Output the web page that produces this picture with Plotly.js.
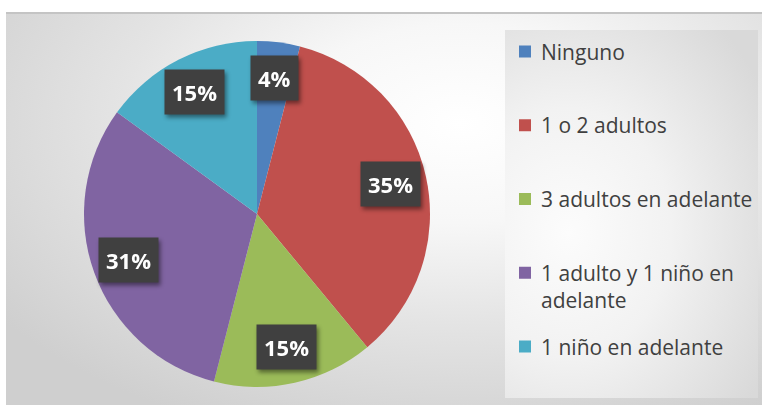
<!DOCTYPE html>
<html><head><meta charset="utf-8">
<script src="https://cdn.plot.ly/plotly-3.0.1.min.js"></script>
<style>
html,body{margin:0;padding:0;background:#fff;width:762px;height:408px;overflow:hidden;}
#frame{position:absolute;left:6px;top:12px;width:756px;height:393px;
  background:radial-gradient(ellipse 75% 85% at 60% 28%, #ffffff 0%, #f7f7f7 30%, #e4e4e4 60%, #cfcfcf 100%);
  border-top:2px solid #c4c4c4;box-sizing:border-box;}
#legbox{position:absolute;left:505px;top:30px;width:253px;height:368px;
  background:radial-gradient(ellipse 90% 75% at 25% 55%, #fcfcfc 0%, #f2f2f2 45%, #d9d9d9 100%);}
#chart{position:absolute;left:0;top:0;width:762px;height:408px;}
.annotation[data-index="0"],.annotation[data-index="1"],.annotation[data-index="2"],
.annotation[data-index="3"],.annotation[data-index="4"]{filter:drop-shadow(2px 3px 2px rgba(0,0,0,0.45));}
</style></head><body>
<div id="frame"></div><div id="legbox"></div><div id="chart"></div>
<script>
// ---- data ----
const categories = ['Ninguno', '1 o 2 adultos', '3 adultos en adelante', '1 adulto y 1 niño en adelante', '1 niño en adelante'];
const values = [4, 35, 15, 31, 15];
const colors = ['#4f81bd', '#c0504d', '#9bbb59', '#8064a2', '#4bacc6'];

// ---- layout geometry ----
const W = 762, H = 408;
const cx = 257, cy = 214, R = 173;
const labelFrac = 0.79;
const legX = 539, legSq = 525, legY0 = 51.5, legStep = 73.75, legLine = 28;

const total = values.reduce((a, b) => a + b, 0);
const px = x => x / W;
const py = y => (H - y) / H;

function wrap(s, maxChars) {
  const words = s.split(' '); const lines = []; let cur = '';
  words.forEach(w => {
    const t = cur ? cur + ' ' + w : w;
    if (t.length > maxChars && cur) { lines.push(cur); cur = w; } else cur = t;
  });
  if (cur) lines.push(cur);
  return lines;
}

const annotations = [];
let cum = 0;
values.forEach((v, i) => {
  const mid = (cum + v / 2) / total * 2 * Math.PI;
  cum += v;
  annotations.push({
    xref: 'paper', yref: 'paper',
    x: px(cx + labelFrac * R * Math.sin(mid)),
    y: py(cy - labelFrac * R * Math.cos(mid)),
    xanchor: 'center', yanchor: 'middle', showarrow: false,
    text: Math.round(v / total * 100) + '%',
    font: {family: 'Open Sans, sans-serif', size: 22, color: '#ffffff', weight: 'bold'},
    bgcolor: '#404040', borderpad: 7
  });
});

const shapes = [];
categories.forEach((c, i) => {
  const lines = wrap(c, 21);
  const yc = legY0 + i * legStep;
  annotations.push({
    xref: 'paper', yref: 'paper',
    x: px(legX), y: py(yc + (lines.length - 1) * legLine / 2),
    xanchor: 'left', yanchor: 'middle', align: 'left', showarrow: false,
    text: lines.join('<br>'),
    font: {family: 'Open Sans, sans-serif', size: 21, color: '#404040'}
  });
  shapes.push({
    type: 'rect', xref: 'paper', yref: 'paper',
    x0: px(legSq - 6), x1: px(legSq + 6), y0: py(yc + 6), y1: py(yc - 6),
    fillcolor: colors[i], line: {width: 0}
  });
});

const trace = {
  type: 'pie', labels: categories, values: values,
  marker: {colors: colors, line: {width: 0}},
  sort: false, direction: 'clockwise', rotation: 0,
  textinfo: 'none', hoverinfo: 'skip',
  domain: {x: [px(cx - R), px(cx + R)], y: [py(cy + R), py(cy - R)]}
};

Plotly.newPlot('chart', [trace], {
  width: W, height: H, margin: {l: 0, r: 0, t: 0, b: 0},
  paper_bgcolor: 'rgba(0,0,0,0)', plot_bgcolor: 'rgba(0,0,0,0)',
  showlegend: false, annotations: annotations, shapes: shapes
}, {staticPlot: true});
</script>
</body></html>
